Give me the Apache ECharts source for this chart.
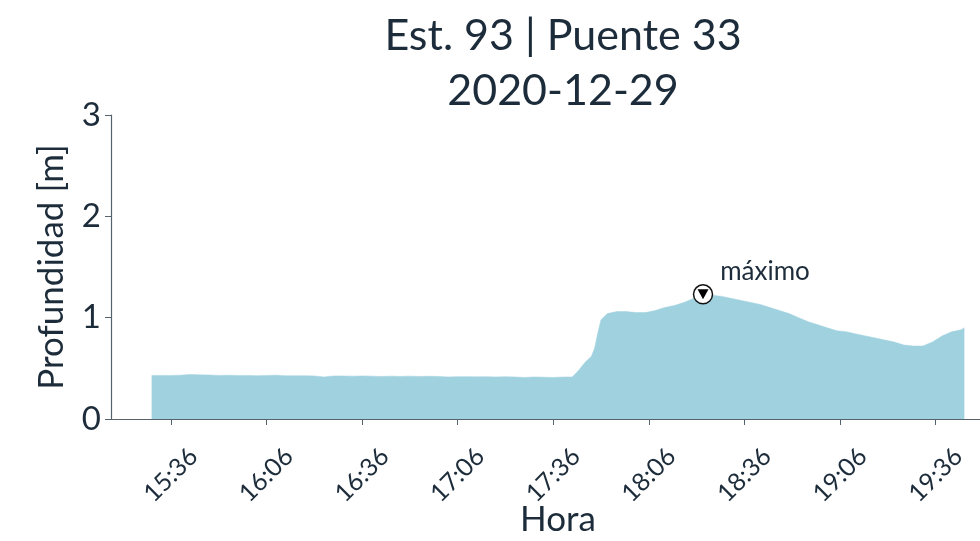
<!DOCTYPE html>
<html>
<head>
<meta charset="utf-8">
<script src="https://cdn.jsdelivr.net/npm/echarts@6/dist/echarts.min.js"></script>
<style>
  html, body { margin: 0; padding: 0; background: #fff; }
  #chart { width: 980px; height: 541px; }
</style>
</head>
<body>
<div id="chart"></div>
<script>
// hora de cada lectura
const horas = [
  '15:30','15:33','15:36','15:39','15:42','15:45','15:48','15:51','15:54','15:57',
  '16:00','16:03','16:06','16:09','16:12','16:15','16:18','16:21','16:24','16:27',
  '16:30','16:33','16:36','16:39','16:42','16:45','16:48','16:51','16:54','16:57',
  '17:00','17:03','17:06','17:09','17:12','17:15','17:18','17:21','17:24','17:27',
  '17:30','17:33','17:36','17:39','17:42','17:44','17:46','17:48','17:49','17:50',
  '17:51','17:53','17:56','17:59','18:02','18:05','18:08','18:11','18:14','18:17',
  '18:20','18:23','18:26','18:29','18:32','18:35','18:38','18:41','18:44','18:47',
  '18:50','18:53','18:56','18:59','19:02','19:05','19:08','19:11','19:14','19:17',
  '19:20','19:23','19:26','19:29','19:32','19:35','19:38','19:41','19:44','19:45'
]
// profundidad [m]
const profundidad = [
  0.43, 0.43, 0.43, 0.432, 0.44, 0.436, 0.434, 0.43, 0.432, 0.43,
  0.43, 0.428, 0.43, 0.432, 0.428, 0.426, 0.427, 0.425, 0.415, 0.425,
  0.425, 0.423, 0.425, 0.423, 0.42, 0.423, 0.42, 0.423, 0.42, 0.422,
  0.42, 0.415, 0.418, 0.418, 0.416, 0.418, 0.415, 0.418, 0.415, 0.41,
  0.415, 0.413, 0.41, 0.414, 0.415, 0.48, 0.56, 0.62, 0.70, 0.85,
  0.98, 1.04, 1.06, 1.06, 1.05, 1.05, 1.07, 1.10, 1.12, 1.15,
  1.19, 1.23, 1.22, 1.21, 1.19, 1.17, 1.15, 1.13, 1.10, 1.07,
  1.04, 1.00, 0.96, 0.93, 0.90, 0.87, 0.86, 0.84, 0.82, 0.80,
  0.78, 0.76, 0.73, 0.72, 0.72, 0.76, 0.82, 0.86, 0.88, 0.90
]
const marcas = ['15:36','16:06','16:36','17:06','17:36','18:06','18:36','19:06','19:36']

const aMin = s => { const [h, m] = s.split(':').map(Number); return h * 60 + m }
const aHora = v => {
  const h = Math.floor(v / 60), m = Math.round(v - h * 60)
  return h + ':' + String(m).padStart(2, '0')
}

const oscuro = '#1d2c3a'
const eje = '#56636d'
const datos = horas.map((h, i) => [aMin(h), profundidad[i]])
const ticks = marcas.map(aMin)
// 5% de margen como matplotlib
const x0 = aMin(horas[0]), x1 = aMin(horas[horas.length - 1])
const pad = (x1 - x0) * 0.05

const chart = echarts.init(document.getElementById('chart'))
chart.setOption({
  animation: false,
  textStyle: { fontFamily: 'Lato', color: oscuro },
  title: {
    text: 'Est. 93 | Puente 33\n2020-12-29',
    left: 558,
    textAlign: 'center',
    top: 4,
    textStyle: { fontFamily: 'Lato', fontSize: 43, fontWeight: 'normal', color: oscuro, lineHeight: 55 }
  },
  grid: { left: 111, right: -25, top: 115, bottom: 122, containLabel: false, outerBoundsMode: 'none' },
  xAxis: {
    type: 'value',
    min: x0 - pad,
    max: x1 + pad,
    name: 'Hora',
    nameLocation: 'middle',
    nameGap: 101,
    nameMoveOverlap: false,
    nameTextStyle: { fontSize: 35, color: oscuro, verticalAlign: 'middle' },
    axisLine: { show: true, lineStyle: { color: eje, width: 1.2 } },
    axisTick: { show: true, customValues: ticks, length: 6, lineStyle: { color: eje } },
    splitLine: { show: false },
    axisLabel: {
      customValues: ticks,
      formatter: v => aHora(v),
      rotate: 45,
      align: 'center',
      verticalAlign: 'middle',
      margin: 56,
      fontSize: 25,
      color: oscuro
    }
  },
  yAxis: {
    type: 'value',
    min: 0,
    max: 3,
    interval: 1,
    name: 'Profundidad [m]',
    nameLocation: 'middle',
    nameGap: 59,
    nameMoveOverlap: false,
    nameTextStyle: { fontSize: 35, color: oscuro, verticalAlign: 'middle' },
    axisLine: { show: true, lineStyle: { color: eje, width: 1.2 } },
    axisTick: { show: true, length: 6, lineStyle: { color: eje } },
    splitLine: { show: false },
    axisLabel: { fontSize: 33, color: oscuro, margin: 10 }
  },
  series: [
    {
      type: 'line',
      data: datos,
      showSymbol: false,
      lineStyle: { width: 0.5, color: '#9fd1df' },
      areaStyle: { color: '#9fd1df', opacity: 1 },
      markPoint: {
        silent: true,
        data: [
          {
            type: 'max', valueDim: 'y',
            symbol: 'circle', symbolSize: 19,
            itemStyle: { color: '#fff', borderColor: '#111', borderWidth: 1.5 },
            label: {
              show: true, formatter: 'máximo', position: 'inside', offset: [62, -23],
              align: 'center', verticalAlign: 'middle',
              fontSize: 26, color: oscuro, fontFamily: 'Lato'
            }
          },
          {
            type: 'max', valueDim: 'y',
            symbol: 'triangle', symbolRotate: 180, symbolSize: [11, 10],
            itemStyle: { color: '#000' },
            label: { show: false }
          }
        ]
      }
    }
  ]
})
</script>
</body>
</html>
